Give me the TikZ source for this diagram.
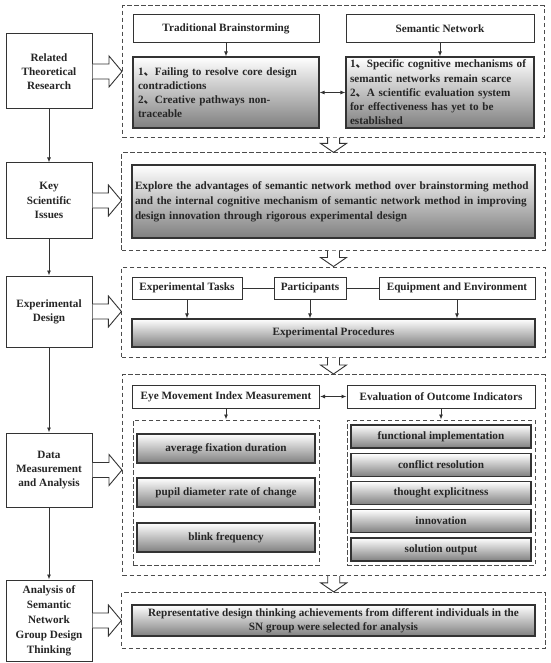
\documentclass[tikz,border=0pt]{standalone}
\usepackage{fontspec}
\setmainfont{Liberation Serif}
\newfontfamily\cjk{Noto Sans CJK SC}
\usetikzlibrary{arrows.meta,positioning,fit,calc}

\tikzset{
  every node/.style={font=\fontsize{11.2}{14.2}\selectfont\bfseries, text=black!85},
  leftbox/.style={draw=black!80, line width=1pt, fill=white, minimum width=86pt, align=center, inner sep=1pt},
  headbox/.style={draw=black!80, line width=1pt, fill=white, minimum height=28pt, inner sep=0pt},
  shadebox/.style={draw=black!80, line width=1.2pt, top color=white, bottom color=black!50, inner sep=0pt},
  group/.style={draw=black!70, line width=1pt, dash pattern=on 4.5pt off 2.5pt, inner sep=0pt},
  conn/.style={draw=black!80, line width=0.9pt, ->},
  dconn/.style={draw=black!80, line width=0.9pt, <->},
  link/.style={draw=black!80, line width=0.9pt},
  hollow/.style={draw=black!80, line width=0.9pt, fill=white},
}

% block arrows between a step and its panel
\newcommand{\hollowright}[2]{%
  \draw[hollow] let \p1=(#1.east), \p2=(#2.west) in
    (\x1,\y1+7.5pt) -- (\x2-13pt,\y1+7.5pt) -- (\x2-13pt,\y1+15.5pt) -- (\x2,\y1)
    -- (\x2-13pt,\y1-15.5pt) -- (\x2-13pt,\y1-7.5pt) -- (\x1,\y1-7.5pt);}
\newcommand{\hollowdown}[2]{%
  \draw[hollow] let \p1=(#1.south), \p2=(#2.north) in
    (\x1-6pt,\y1) -- (\x1-6pt,\y2+9pt) -- (\x1-13pt,\y2+9pt) -- (\x1,\y2)
    -- (\x1+13pt,\y2+9pt) -- (\x1+6pt,\y2+9pt) -- (\x1+6pt,\y1);}

\begin{document}
\begin{tikzpicture}[x=1pt, y=-1pt, >={Latex[length=5pt,width=4pt]}]
    \useasboundingbox (0,0) rectangle (550,663);

    % Left column: research steps
    \node[leftbox, minimum height=75pt] (rtr) at (49,71.5) {Related\\Theoretical\\Research};
    \node[leftbox, minimum height=75pt] (ksi) at (49,200.5) {Key\\Scientific\\Issues};
    \node[leftbox, minimum height=71pt] (exd) at (49,311.5) {Experimental\\Design};
    \node[leftbox, minimum height=74pt] (dma) at (49,470) {Data\\Measurement\\and Analysis};
    \node[leftbox, minimum height=81pt, font=\fontsize{11.2}{15}\selectfont\bfseries] (asn) at (49,620.5) {Analysis of\\Semantic\\Network\\Group Design\\Thinking};
    \draw[conn] (rtr) -- (ksi);
    \draw[conn] (ksi) -- (exd);
    \draw[conn] (exd) -- (dma);
    \draw[conn] (dma) -- (asn);

    % Panel 1: related research
    \node[headbox, minimum width=186pt] (tb) at (226,29) {Traditional Brainstorming};
    \node[headbox, minimum width=188pt] (sn) at (440,29) {Semantic Network};
    \node[shadebox, minimum width=186pt, minimum height=71pt, text width=176pt, align=left] (tbc) at (226,92.5)
        {1{\cjk 、}Failing to resolve core design\\contradictions\\2{\cjk 、}Creative pathways non-\\traceable};
    \node[shadebox, minimum width=188pt, minimum height=71pt, text width=180pt, align=left] (snc) at (440,92.5)
        {1{\cjk 、}Specific cognitive mechanisms of\\semantic networks remain scarce\\2{\cjk 、}A scientific evaluation system\\for effectiveness has yet to be\\established};
    \draw[conn] (tb) -- (tbc);
    \draw[conn] (sn) -- (snc);
    \draw[dconn] (tbc) -- (snc);
    \node[group, fit=(tb)(snc), inner xsep=10pt, inner ysep=8.5pt] (g1) {};

    % Panel 2: key issues
    \node[shadebox, minimum width=403pt, minimum height=73pt, text width=397pt, align=left,
          font=\fontsize{11.2}{15}\selectfont\bfseries] (ksc) at (333.5,201.5)
        {Explore the advantages of semantic network method over brainstorming method\\and the internal cognitive mechanism of semantic network method in improving\\design innovation through rigorous experimental design};
    \node[group, fit=(ksc), inner xsep=9.5pt, inner ysep=11.5pt] (g2) {};

    % Panel 3: experimental design
    \node[headbox, minimum width=110pt, minimum height=22pt] (et) at (187,288) {Experimental Tasks};
    \node[headbox, minimum width=72pt, minimum height=22pt] (pa) at (310,288) {Participants};
    \node[headbox, minimum width=156pt, minimum height=22pt] (ee) at (457,288) {Equipment and Environment};
    \node[shadebox, minimum width=403pt, minimum height=28pt] (ep) at (333.5,333) {Experimental Procedures};
    \draw[link] (et) -- (pa) -- (ee);
    \foreach \n in {et,pa,ee}
        \draw[conn] (\n.south) -- (\n.south |- ep.north);
    \node[group, fit=(et)(ee)(ep), inner xsep=9.5pt, inner ysep=9.5pt] (g3) {};

    % Panel 4: data measurement
    \node[headbox, minimum width=187pt, minimum height=23pt] (em) at (226,396.5) {Eye Movement Index Measurement};
    \node[headbox, minimum width=188pt, minimum height=23pt] (eo) at (441,396.5) {Evaluation of Outcome Indicators};
    \node[group, minimum width=186pt, minimum height=145pt] (emg) at (226,492.5) {};
    \node[group, minimum width=188pt, minimum height=145pt] (eog) at (441,492.5) {};
    \foreach \y/\t [count=\i] in {448.5/average fixation duration, 492.5/pupil diameter rate of change, 537.5/blink frequency}
        \node[shadebox, minimum width=178pt, minimum height=29pt] (em\i) at (226,\y) {\t};
    \foreach \y/\t [count=\i] in {436.5/functional implementation, 465/conflict resolution, 493/thought explicitness, 521/innovation, 549.5/solution output}
        \node[shadebox, minimum width=180pt, minimum height=23pt] (eo\i) at (441,\y) {\t};
    \draw[dconn] (em) -- (eo);
    \draw[conn] (em.south) -- (em.south |- emg.north);
    \draw[conn] (eo.south) -- (eo.south |- eog.north);
    \node[group, fit=(em)(eog), inner xsep=9.5pt, inner ysep=10pt] (g4) {};

    % Panel 5: group design thinking
    \node[shadebox, minimum width=403pt, minimum height=31pt, align=center] (rep) at (333.5,620.5)
        {Representative design thinking achievements from different individuals in the\\SN group were selected for analysis};
    \node[group, fit=(rep), inner xsep=9.5pt, inner ysep=12pt] (g5) {};

    % Block arrows
    \hollowright{rtr}{g1}
    \hollowright{ksi}{g2}
    \hollowright{exd}{g3}
    \hollowright{dma}{g4}
    \hollowright{asn}{g5}
    \hollowdown{g1}{g2}
    \hollowdown{g2}{g3}
    \hollowdown{g3}{g4}
    \hollowdown{g4}{g5}
\end{tikzpicture}
\end{document}
